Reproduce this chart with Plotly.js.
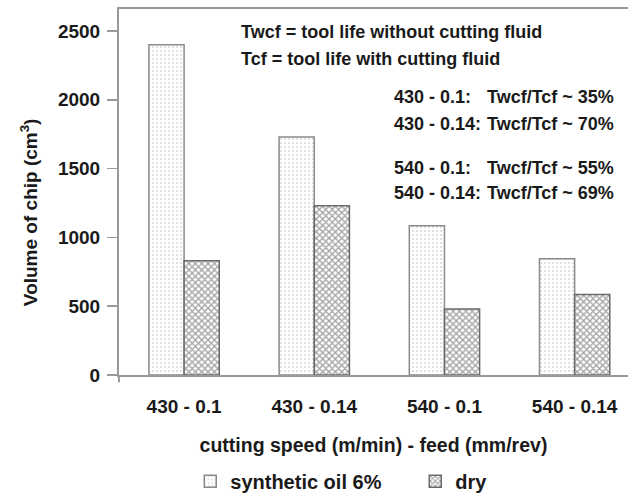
<!DOCTYPE html>
<html>
<head>
<meta charset="utf-8">
<script src="https://cdn.plot.ly/plotly-3.0.1.min.js"></script>
<style>html,body{margin:0;padding:0;background:#fff;}#chart{width:628px;height:498px;}</style>
</head>
<body>
<div id="chart"></div>
<script>
var categories = ["430 - 0.1", "430 - 0.14", "540 - 0.1", "540 - 0.14"];
var syntheticOil = [2400, 1730, 1085, 845];
var dry = [830, 1230, 480, 585];
var seriesNames = ["synthetic oil 6%", "dry"];
var yTicks = [0, 500, 1000, 1500, 2000, 2500];
var notes = ["Twcf = tool life without cutting fluid", "Tcf = tool life with cutting fluid"];
var ratioLabels = ["430 - 0.1:", "430 - 0.14:", "540 - 0.1:", "540 - 0.14:"];
var ratioTexts = ["Twcf/Tcf ~ 35%", "Twcf/Tcf ~ 70%", "Twcf/Tcf ~ 55%", "Twcf/Tcf ~ 69%"];

var FONT = "Liberation Sans, Arial, sans-serif";
var TXT = "#1a1a1a";

var traces = [
  {
    type: "bar", name: seriesNames[0], x: categories, y: syntheticOil,
    legendwidth: 180,
    marker: {
      color: "#ffffff",
      line: {color: "#8a8a8a", width: 1.5},
      pattern: {shape: ".", size: 4, solidity: 0.22, fgcolor: "#b4b4b4", bgcolor: "#ffffff", fillmode: "overlay"}
    },
    hoverinfo: "x+y"
  },
  {
    type: "bar", name: seriesNames[1], x: categories, y: dry,
    legendwidth: 50,
    marker: {
      color: "#ffffff",
      line: {color: "#6a6a6a", width: 1.5},
      pattern: {shape: "x", size: 4.5, solidity: 0.5, fgcolor: "#444444", bgcolor: "#ffffff", fillmode: "overlay"}
    },
    hoverinfo: "x+y"
  }
];

var annotations = [];
var noteY = [0.937, 0.863];
notes.forEach(function(t, i){
  annotations.push({text: t, xref: "paper", yref: "paper", x: 0.236, y: noteY[i],
    xanchor: "left", yanchor: "middle", showarrow: false,
    font: {family: FONT, size: 18, color: TXT, weight: "bold"}});
});
var ratioY = [0.760, 0.686, 0.566, 0.497];
ratioLabels.forEach(function(t, i){
  annotations.push({text: t, xref: "paper", yref: "paper", x: 0.536, y: ratioY[i],
    xanchor: "left", yanchor: "middle", showarrow: false,
    font: {family: FONT, size: 18, color: TXT, weight: "bold"}});
  annotations.push({text: ratioTexts[i], xref: "paper", yref: "paper", x: 0.719, y: ratioY[i],
    xanchor: "left", yanchor: "middle", showarrow: false,
    font: {family: FONT, size: 18, color: TXT, weight: "bold"}});
});
annotations.push({text: "Volume of chip (cm<sup>3</sup>)", xref: "paper", yref: "paper",
  x: 0, xshift: -90, y: 0.445, textangle: -90, xanchor: "center", yanchor: "middle",
  showarrow: false, font: {family: FONT, size: 19, color: TXT, weight: "bold"}});

var layout = {
  width: 628, height: 498,
  margin: {l: 119, r: 0, t: 9, b: 123, autoexpand: false},
  paper_bgcolor: "#ffffff", plot_bgcolor: "#ffffff",
  barmode: "group", bargap: 0.46, bargroupgap: 0,
  showlegend: true,
  legend: {orientation: "h", x: 0.14, xanchor: "left", y: -0.29, yanchor: "middle",
    font: {family: FONT, size: 20, color: TXT, weight: "bold"}, traceorder: "normal"},
  xaxis: {
    type: "category", range: [-0.5, 3.41],
    showline: true, linecolor: "#999999", linewidth: 2, mirror: true,
    ticks: "", showgrid: false, zeroline: false,
    ticklabelstandoff: 13,
    tickfont: {family: FONT, size: 19, color: TXT, weight: "bold"},
    title: {text: "cutting speed (m/min) - feed (mm/rev)", standoff: 23,
      font: {family: FONT, size: 19.5, color: TXT, weight: "bold"}}
  },
  yaxis: {
    range: [0, 2660], tickvals: yTicks,
    showline: true, linecolor: "#999999", linewidth: 2,
    ticks: "outside", ticklen: 10, tickwidth: 1.5, tickcolor: "#999999",
    showgrid: false, zeroline: false,
    ticklabelstandoff: 3,
    tickfont: {family: FONT, size: 19, color: TXT, weight: "bold"}
  },
  shapes: [
    {type: "line", xref: "paper", yref: "paper", x0: 0, x1: 0, y0: 0, y1: -0.02,
     line: {color: "#999999", width: 2}}
  ],
  annotations: annotations
};

Plotly.newPlot("chart", traces, layout, {displayModeBar: false, staticPlot: true});
</script>
</body>
</html>
